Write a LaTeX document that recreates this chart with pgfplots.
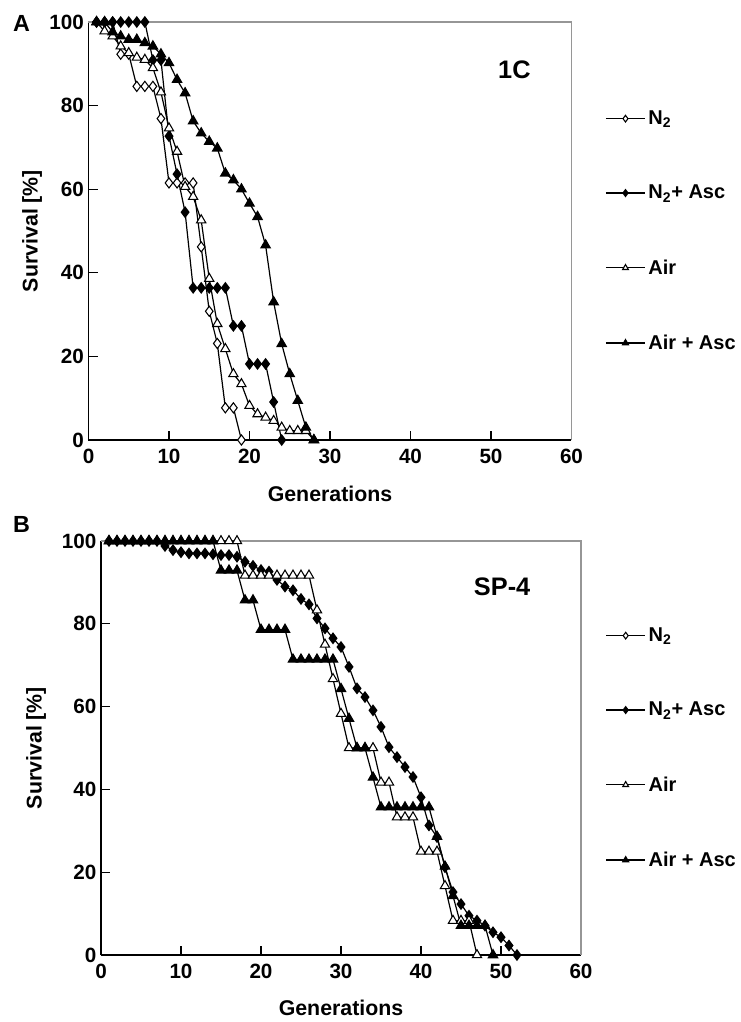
\documentclass[border=0pt]{standalone}
\usepackage{fontspec}
\setmainfont{Liberation Sans}
\usepackage{pgfplots}
\pgfplotsset{compat=1.18}
\definecolor{boxgray}{RGB}{150,150,150}

\pgfplotsset{
  survax/.style={
    scale only axis,
    xmin=0, xmax=60, ymin=0, ymax=100,
    xtick={0,10,...,60}, ytick={0,20,...,100},
    axis x line*=bottom, axis y line*=left,
    axis line style={line width=1.2pt},
    tick align=inside, major tick length=6.75pt,
    tick style={line width=1pt, black},
    /pgf/number format/assume math mode=true,
    tick label style={font=\fontsize{15.5}{18}\selectfont\bfseries},
    xticklabel style={yshift=-3pt},
    label style={font=\fontsize{16}{19}\selectfont\bfseries},
    xlabel={Generations}, ylabel={Survival [\%]},
    xlabel style={at={(axis description cs:0.5,-0.128)}, anchor=center},
    clip=false,
    legend style={draw=none, fill=none, anchor=west,
      font=\fontsize{15}{17}\selectfont\bfseries,
      row sep=40pt, cells={anchor=west}},
    legend image code/.code={\draw[mark repeat=2, mark phase=2]
      plot coordinates {(0pt,0pt)(14.75pt,0pt)(29.5pt,0pt)};},
    legend image post style={mark size=2.5pt},
  },
  n2/.style={black, line width=0.9pt, mark=diamond*, mark size=3.8pt,
    mark options={fill=white, solid, line width=0.8pt}},
  n2asc/.style={black, line width=0.9pt, mark=diamond*, mark size=3.8pt,
    mark options={fill=black, solid}},
  air/.style={black, line width=0.9pt, mark=triangle*, mark size=4pt,
    mark options={fill=white, solid, line width=0.8pt}},
  airasc/.style={black, line width=0.9pt, mark=triangle*, mark size=4pt,
    mark options={fill=black, solid}},
}

\begin{document}
\begin{tikzpicture}
\useasboundingbox (0,0) rectangle (555.75pt,-766.5pt);

% panel letters
\node[font=\fontsize{17.5}{20}\selectfont\bfseries] at (16.1pt,-17.6pt) {A};
\node[font=\fontsize{17.5}{20}\selectfont\bfseries] at (16.1pt,-393.4pt) {B};

% ---------- panel A : 1C ----------
\begin{axis}[survax,
  at={(66.375pt,-330pt)}, anchor=south west,
  width=362.25pt, height=313.5pt,
  ylabel style={at={(axis description cs:-0.117,0.5)}, anchor=center},
  legend style={at={(1.061,0.5)}}]
\draw[boxgray, line width=0.8pt] (rel axis cs:0,1) -- (rel axis cs:1,1) -- (rel axis cs:1,0);

\addplot[n2] coordinates {(1,100)(2,100)(3,100)(4,92.3)(5,92.3)(6,84.6)(7,84.6)(8,84.6)
  (9,76.9)(10,61.5)(11,61.5)(12,61.5)(13,61.5)(14,46.2)(15,30.8)(16,23.1)(17,7.7)(18,7.7)(19,0)};
\addlegendentry{N\textsubscript{2}}

\addplot[n2asc] coordinates {(1,100)(2,100)(3,100)(4,100)(5,100)(6,100)(7,100)(8,90.9)
  (9,90.9)(10,72.7)(11,63.6)(12,54.5)(13,36.4)(14,36.4)(15,36.4)(16,36.4)(17,36.4)
  (18,27.3)(19,27.3)(20,18.2)(21,18.2)(22,18.2)(23,9.1)(24,0)};
\addlegendentry{N\textsubscript{2}+ Asc}

\addplot[air] coordinates {(1,100)(2,97.8)(3,96.6)(4,94.2)(5,92.6)(6,91.5)(7,91)(8,89)
  (9,83.2)(10,74.6)(11,69)(12,60.6)(13,58.2)(14,52.6)(15,38.6)(16,27.8)(17,21.8)(18,15.8)
  (19,13.4)(20,8.2)(21,6.2)(22,5.4)(23,4.6)(24,3)(25,2.2)(26,2.2)(27,2.2)(28,0)};
\addlegendentry{Air}

\addplot[airasc] coordinates {(1,100)(2,100)(3,97.6)(4,96.6)(5,95.8)(6,95.8)(7,95)(8,94.2)
  (9,92.3)(10,90.2)(11,86.2)(12,83)(13,76.3)(14,73.4)(15,71.4)(16,69.8)(17,63.8)(18,62.2)
  (19,60)(20,56.6)(21,53.4)(22,46.6)(23,33)(24,23)(25,15.8)(26,9.4)(27,3)(28,0)};
\addlegendentry{Air + Asc}

\node[anchor=east, font=\fontsize{19}{22}\selectfont\bfseries] at (axis cs:55.5,88.5) {1C};
\end{axis}

% ---------- panel B : SP-4 ----------
\begin{axis}[survax,
  at={(75.75pt,-716.25pt)}, anchor=south west,
  width=360pt, height=310.5pt,
  ylabel style={at={(axis description cs:-0.135,0.5)}, anchor=center},
  legend style={at={(1.042,0.5)}}]
\draw[boxgray, line width=0.8pt] (rel axis cs:0,1) -- (rel axis cs:1,1) -- (rel axis cs:1,0);

\addlegendimage{n2}
\addlegendentry{N\textsubscript{2}}

\addplot[n2asc] coordinates {(1,100)(2,100)(3,100)(4,100)(5,100)(6,100)(7,100)(8,98.8)
  (9,97.8)(10,97.3)(11,97)(12,97)(13,97)(14,96.8)(15,96.6)(16,96.6)(17,96.2)(18,95)(19,94)
  (20,93)(21,92.6)(22,90.6)(23,89)(24,88.1)(25,86)(26,84.7)(27,81.3)(28,78.9)(29,76.5)
  (30,74.4)(31,69.6)(32,64.4)(33,62.3)(34,59.1)(35,55.1)(36,50.2)(37,47.8)(38,45.4)(39,43)
  (40,38.1)(41,31.3)(42,28.5)(43,21.2)(44,15.2)(45,12.3)(46,9.5)(47,8.3)(48,7.1)(49,5.5)
  (50,4.3)(51,2.3)(52,0)};
\addlegendentry{N\textsubscript{2}+ Asc}

\addplot[air] coordinates {(1,100)(2,100)(3,100)(4,100)(5,100)(6,100)(7,100)(8,100)(9,100)
  (10,100)(11,100)(12,100)(13,100)(14,100)(15,100)(16,100)(17,100)(18,91.7)(19,91.7)(20,91.7)
  (21,91.7)(22,91.7)(23,91.7)(24,91.7)(25,91.7)(26,91.7)(27,83.3)(28,75)(29,66.7)(30,58.3)
  (31,50)(32,50)(33,50)(34,50)(35,41.7)(36,41.7)(37,33.3)(38,33.3)(39,33.3)(40,25)(41,25)
  (42,25)(43,16.7)(44,8.3)(45,8.3)(46,8.3)(47,0)};
\addlegendentry{Air}

\addplot[airasc] coordinates {(1,100)(2,100)(3,100)(4,100)(5,100)(6,100)(7,100)(8,100)(9,100)
  (10,100)(11,100)(12,100)(13,100)(14,100)(15,92.9)(16,92.9)(17,92.9)(18,85.7)(19,85.7)
  (20,78.6)(21,78.6)(22,78.6)(23,78.6)(24,71.4)(25,71.4)(26,71.4)(27,71.4)(28,71.4)(29,71.4)
  (30,64.3)(31,57.1)(32,50)(33,50)(34,42.9)(35,35.7)(36,35.7)(37,35.7)(38,35.7)(39,35.7)
  (40,35.7)(41,35.7)(42,28.6)(43,21.4)(44,14.3)(45,7.1)(46,7.1)(47,7.1)(48,7.1)(49,0)};
\addlegendentry{Air + Asc}

\node[anchor=east, font=\fontsize{19}{22}\selectfont\bfseries] at (axis cs:54.25,88.9) {SP-4};
\end{axis}
\end{tikzpicture}
\end{document}
